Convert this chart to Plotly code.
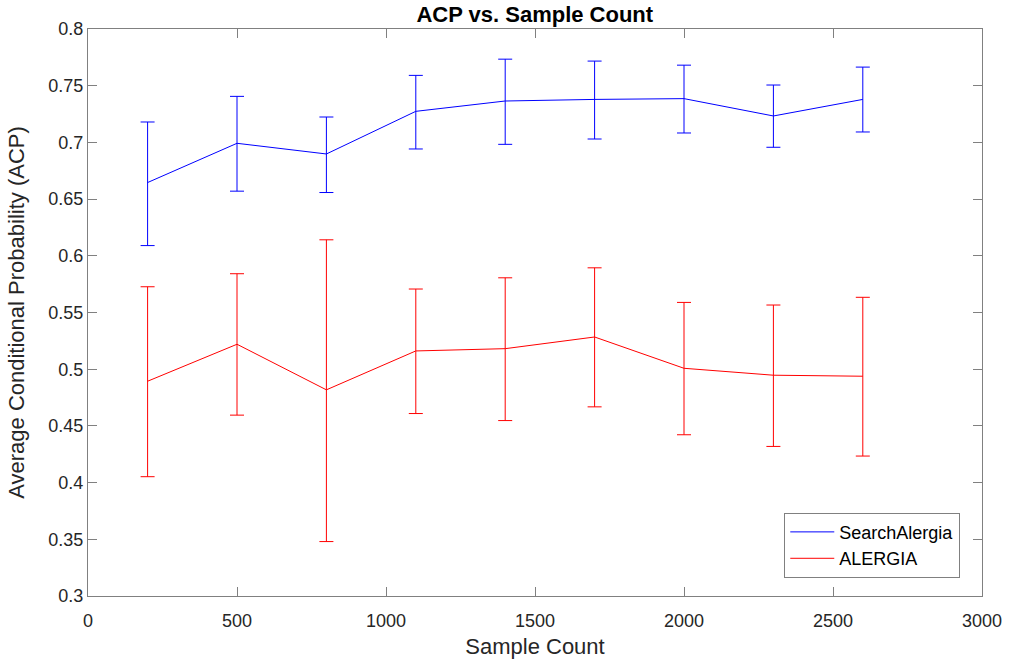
import plotly.graph_objects as go

sample_counts = [200, 500, 800, 1100, 1400, 1700, 2000, 2300, 2600]

search_mean = [0.6646, 0.6992, 0.6898, 0.7274, 0.7365, 0.7379, 0.7386, 0.7233, 0.7379]
search_upper = [0.7180, 0.7406, 0.7224, 0.7591, 0.7734, 0.7717, 0.7681, 0.7506, 0.7664]
search_lower = [0.6090, 0.6570, 0.6558, 0.6942, 0.6983, 0.7030, 0.7083, 0.6957, 0.7092]

alergia_mean = [0.4894, 0.5220, 0.4818, 0.5161, 0.5181, 0.5284, 0.5008, 0.4947, 0.4938]
alergia_upper = [0.5727, 0.5842, 0.6141, 0.5707, 0.5806, 0.5894, 0.5589, 0.5566, 0.5634]
alergia_lower = [0.4052, 0.4595, 0.3480, 0.4609, 0.4547, 0.4668, 0.4422, 0.4319, 0.4234]

x_ticks = [0, 500, 1000, 1500, 2000, 2500, 3000]
y_ticks = [0.3, 0.35, 0.4, 0.45, 0.5, 0.55, 0.6, 0.65, 0.7, 0.75, 0.8]
y_tick_labels = ["0.3", "0.35", "0.4", "0.45", "0.5", "0.55", "0.6", "0.65", "0.7", "0.75", "0.8"]

FONT = "Liberation Sans, Arial, Helvetica, sans-serif"


def err(mean, upper, lower):
    plus = [u - m for u, m in zip(upper, mean)]
    minus = [m - l for m, l in zip(mean, lower)]
    return plus, minus


fig = go.Figure()
for name, mean, up, lo, color in [
    ("SearchAlergia", search_mean, search_upper, search_lower, "#0000FF"),
    ("ALERGIA", alergia_mean, alergia_upper, alergia_lower, "#FF0000"),
]:
    p, m = err(mean, up, lo)
    fig.add_trace(go.Scatter(
        x=sample_counts, y=mean, mode="lines", name=name,
        line=dict(color=color, width=1),
        error_y=dict(type="data", symmetric=False, array=p, arrayminus=m,
                     color=color, thickness=1, width=7),
    ))

axis_common = dict(
    showgrid=False, zeroline=False, showline=True, linecolor="#808080", linewidth=1,
    mirror="ticks", ticks="inside", ticklen=9, tickcolor="#808080",
    tickfont=dict(family=FONT, size=18, color="#262626"),
    automargin=False,
)

fig.update_layout(
    width=1009, height=662,
    paper_bgcolor="white", plot_bgcolor="white",
    margin=dict(l=88, r=27, t=29, b=66),
    title=dict(text="<b>ACP vs. Sample Count</b>", x=0.53, xanchor="center",
               y=1 - 14 / 662, yref="container", yanchor="middle",
               font=dict(family=FONT, size=22, color="#000000")),
    xaxis=dict(range=[0, 3000], tickvals=x_ticks, ticktext=[str(v) for v in x_ticks],
               ticklabelstandoff=8,
               title=dict(text="Sample Count", standoff=9,
                          font=dict(family=FONT, size=22, color="#262626")),
               **axis_common),
    yaxis=dict(range=[0.3, 0.8], tickvals=y_ticks, ticktext=y_tick_labels,
               title=dict(text="Average Conditional Probability (ACP)", standoff=17,
                          font=dict(family=FONT, size=22, color="#262626")),
               **axis_common),
    legend=dict(x=0.9757, y=0.0323, xanchor="right", yanchor="bottom",
                bgcolor="white", bordercolor="#808080", borderwidth=1,
                font=dict(family=FONT, size=18, color="#000000"),
                itemwidth=44, tracegroupgap=0),
    showlegend=True,
)

fig.write_html("out.html", config={"displayModeBar": False},
               post_script="document.body.style.margin='0px';")
